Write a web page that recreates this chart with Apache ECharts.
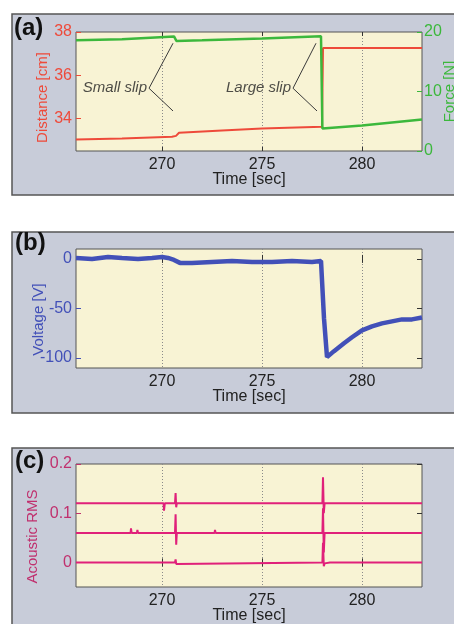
<!DOCTYPE html>
<html>
<head>
<meta charset="utf-8">
<script src="https://cdn.jsdelivr.net/npm/echarts@6/dist/echarts.min.js"></script>
<style>
  html, body { margin: 0; padding: 0; background: #fff; }
  #chart { width: 454px; height: 624px; }
</style>
</head>
<body>
<div id="chart"></div>
<script>
const FONT = '"Liberation Sans", Arial, sans-serif'

// time axis
const timeMin = 265.7
const timeMax = 283
const timeTicks = [270, 275, 280]

// (a) distance [cm] and force [N]
const distanceTicks = [34, 36, 38]
const forceTicks = [0, 10, 20]
const distance = [
  [265.7, 33.03], [268, 33.08], [270.5, 33.16], [270.7, 33.2], [270.85, 33.34],
  [273, 33.45], [275, 33.54], [278.0, 33.62], [278.05, 37.26], [283, 37.26]
]
const force = [
  [265.7, 18.6], [268, 18.8], [270.6, 19.25], [270.72, 18.5], [272, 18.6],
  [275, 18.9], [277.95, 19.28], [278.02, 3.77], [280, 4.3], [283, 5.3]
]
const slipNames = ['Small slip', 'Large slip']
const slipVertex = [[269.35, 35.4], [276.55, 35.4]]
const slipUpper = [[270.55, 37.48], [277.7, 37.48]]
const slipLower = [[270.55, 34.35], [277.75, 34.35]]

// (b) voltage [V]
const voltageTicks = [-100, -50, 0]
const voltage = [
  [265.7, 1], [266.5, 0], [267.3, 2], [268, 1], [268.8, 0], [269.5, 1], [270, 2],
  [270.3, 1], [270.6, -1], [270.9, -4], [271.5, -4], [272.5, -3], [273.5, -2],
  [274.5, -3], [275.5, -3], [276.5, -2], [277.5, -3], [277.95, -2], [278.1, -60],
  [278.25, -99], [278.35, -97], [278.6, -93], [279.1, -85], [279.5, -79], [280, -72],
  [280.5, -68], [281, -65], [281.5, -63], [282, -61], [282.5, -61], [283, -59]
]

// (c) acoustic RMS, three channels
const acousticTicks = [0, 0.1, 0.2]
const acoustic1 = [
  [265.7, 0.12], [268.55, 0.12], [268.57, 0.117], [268.6, 0.12], [270.08, 0.12],
  [270.1, 0.105], [270.14, 0.12], [270.65, 0.12], [270.68, 0.141], [270.71, 0.112],
  [270.74, 0.12], [278.02, 0.12], [278.05, 0.173], [278.09, 0.1], [278.13, 0.12], [283, 0.12]
]
const acoustic2 = [
  [265.7, 0.06], [268.43, 0.06], [268.45, 0.069], [268.48, 0.06], [268.75, 0.06],
  [268.77, 0.066], [268.8, 0.06], [270.65, 0.06], [270.68, 0.098], [270.71, 0.036],
  [270.74, 0.06], [272.63, 0.06], [272.65, 0.066], [272.68, 0.06], [278.02, 0.06],
  [278.05, 0.11], [278.09, 0.02], [278.13, 0.06], [283, 0.06]
]
const acoustic3 = [
  [265.7, 0], [270.65, 0], [270.68, 0.006], [270.71, -0.003], [270.74, 0],
  [278.02, 0], [278.05, 0.04], [278.09, -0.008], [278.13, -0.002], [278.4, 0], [283, 0]
]

const BOX = '#c8ccd9'
const PLOT = '#f8f3d4'
const RED = '#ee4a3a'
const GREEN = '#3cb83c'
const BLUE = '#4250b8'
const PINK = '#e0207a'
const PINK_TXT = '#c0306e'

const grids = [
  { left: 76, top: 32, width: 346, height: 119 },
  { left: 76, top: 249, width: 346, height: 119 },
  { left: 76, top: 464, width: 346, height: 123 }
].map((g) => ({
  ...g, show: true, outerBoundsMode: 'none', containLabel: false,
  backgroundColor: PLOT, borderColor: '#555', borderWidth: 1
}))

const txt = (color, size) => ({ color: color, fontSize: size || 16, fontFamily: FONT })

function bottomAxis(i) {
  return {
    type: 'value', gridIndex: i, min: timeMin, max: timeMax,
    axisLine: { show: false },
    axisTick: { inside: true, length: 4, customValues: timeTicks, lineStyle: { color: '#333' } },
    axisLabel: { customValues: timeTicks, margin: 6, ...txt('#222') },
    splitLine: { show: true, lineStyle: { color: '#8a8a8a', type: [1, 2], width: 1 } },
    name: 'Time [sec]', nameLocation: 'middle', nameGap: 21, nameMoveOverlap: false,
    nameTextStyle: txt('#222')
  }
}
function topAxis(i) {
  return {
    type: 'value', gridIndex: i, position: 'top', min: timeMin, max: timeMax,
    axisLine: { show: false },
    axisTick: { inside: true, length: 4, customValues: timeTicks, lineStyle: { color: '#333' } },
    axisLabel: { show: false }, splitLine: { show: false }
  }
}
function sideAxis(i, pos, min, max, ticks, color, name, gap, shift, label) {
  return {
    type: 'value', gridIndex: i, position: pos, min: min, max: max,
    axisLine: { show: false },
    axisTick: { inside: true, length: 5, customValues: ticks, lineStyle: { color: color } },
    axisLabel: { show: label, customValues: ticks, margin: pos === 'left' ? 4 : 2, ...txt(color) },
    splitLine: { show: false },
    name: name, nameLocation: 'middle', nameGap: gap, nameRotate: 90, nameMoveOverlap: false,
    nameTextStyle: { ...txt(color, 15), padding: [0, shift, 0, 0] }
  }
}

const lineSeries = (color, width) => ({
  type: 'line', showSymbol: false, symbol: 'none', animation: false,
  lineStyle: { color: color, width: width }, itemStyle: { color: color }
})

const series = [
  { ...lineSeries(RED, 2), xAxisIndex: 0, yAxisIndex: 0, data: distance, z: 3 },
  { ...lineSeries(GREEN, 2.5), xAxisIndex: 0, yAxisIndex: 1, data: force, z: 3 }
]
slipNames.forEach((n, k) => {
  series.push({
    ...lineSeries('#3a3a3a', 1), xAxisIndex: 0, yAxisIndex: 0,
    data: [slipUpper[k], slipVertex[k], slipLower[k]]
  })
  series.push({
    type: 'scatter', xAxisIndex: 0, yAxisIndex: 0, symbolSize: 0, animation: false,
    data: [slipVertex[k]],
    label: {
      show: true, position: 'left', distance: 2, formatter: n,
      ...txt('#222', 15), fontStyle: 'italic'
    }
  })
})
series.push({ ...lineSeries(BLUE, 4.5), xAxisIndex: 1, yAxisIndex: 2, data: voltage })
series.push({ ...lineSeries(PINK, 2), xAxisIndex: 2, yAxisIndex: 4, data: acoustic1 })
series.push({ ...lineSeries(PINK, 2), xAxisIndex: 2, yAxisIndex: 4, data: acoustic2 })
series.push({ ...lineSeries(PINK, 2), xAxisIndex: 2, yAxisIndex: 4, data: acoustic3 })

const box = (y, h) => ({
  type: 'rect', z: -10, shape: { x: 12, y: y, width: 460, height: h },
  style: { fill: BOX, stroke: '#555', lineWidth: 1.5 }
})
const panelLabel = (t, x, y) => ({
  type: 'text', z: 100, left: x, top: y,
  style: { text: t, fill: '#111', font: 'bold 24px "Liberation Sans", Arial, sans-serif' }
})

const chart = echarts.init(document.getElementById('chart'))
chart.setOption({
  animation: false,
  backgroundColor: '#fff',
  grid: grids,
  xAxis: [bottomAxis(0), bottomAxis(1), bottomAxis(2), topAxis(0), topAxis(1), topAxis(2)],
  yAxis: [
    sideAxis(0, 'left', 32.5, 38, distanceTicks, RED, 'Distance [cm]', 26, 12, true),
    sideAxis(0, 'right', 0, 20, forceTicks, GREEN, 'Force [N]', 20, 0, true),
    sideAxis(1, 'left', -110, 10, voltageTicks, BLUE, 'Voltage [V]', 30, 22, true),
    sideAxis(1, 'right', -110, 10, voltageTicks, '#333', '', 0, 0, false),
    sideAxis(2, 'left', -0.05, 0.2, acousticTicks, PINK_TXT, 'Acoustic RMS', 36, 22, true),
    sideAxis(2, 'right', -0.05, 0.2, acousticTicks, '#333', '', 0, 0, false)
  ],
  graphic: [
    box(14, 181), box(232, 181), box(448, 200),
    panelLabel('(a)', 14, 16), panelLabel('(b)', 15, 231), panelLabel('(c)', 15, 449)
  ],
  series: series
})
</script>
</body>
</html>
